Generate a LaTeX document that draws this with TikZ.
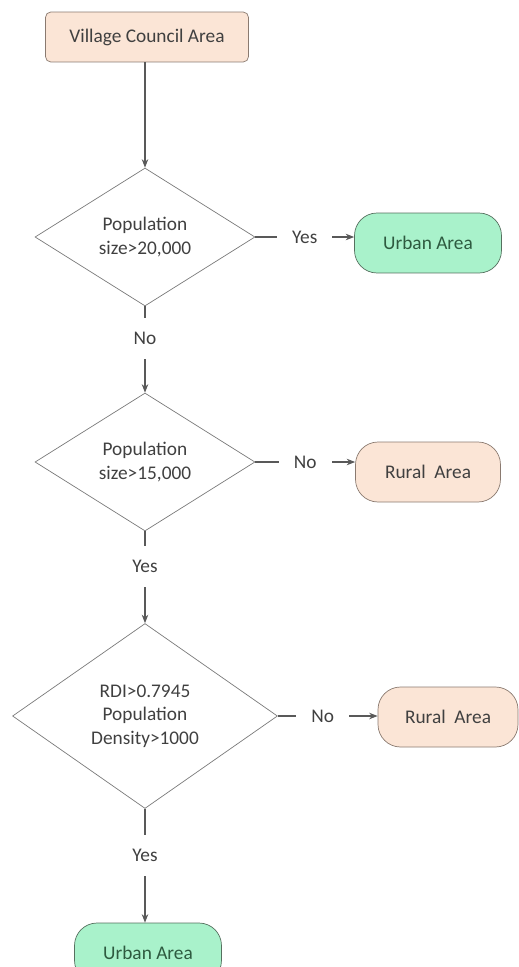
\documentclass[tikz,border=0pt]{standalone}
\usepackage{fontspec}
\setmainfont{Carlito}
\usetikzlibrary{shapes.geometric,arrows.meta}
\definecolor{peachfill}{HTML}{FBE5D6}
\definecolor{peachline}{HTML}{8A7A70}
\definecolor{greenfill}{HTML}{A9F2CB}
\definecolor{greenline}{HTML}{56705F}
\definecolor{greentext}{HTML}{2E5A40}
\definecolor{linegray}{HTML}{595959}
\definecolor{textgray}{HTML}{404040}

\begin{document}
\begin{tikzpicture}[x=0.02cm,y=-0.02cm,
  font=\fontsize{11}{13.5}\selectfont,text=textgray,
  startbox/.style={draw=peachline,fill=peachfill,rounded corners=3pt,minimum width=4.06cm,minimum height=1cm},
  urban/.style={draw=greenline,fill=greenfill,text=greentext,rounded corners=0.45cm,minimum width=2.94cm,minimum height=1.2cm},
  rural/.style={draw=peachline,fill=peachfill,rounded corners=0.45cm,minimum width=2.9cm,minimum height=1.2cm},
  decision/.style={draw=linegray!80,shape=diamond,aspect=1.6,inner sep=0pt,align=center,minimum width=4.4cm,minimum height=2.76cm},
  flow/.style={draw=linegray,line width=0.6pt,-{Stealth[length=0.17cm,width=0.13cm]}},
  lbl/.style={fill=white,inner xsep=0.3cm,inner ysep=0.28cm}]
\useasboundingbox (0,0) rectangle (518,967);
% boxes
\node[startbox] at (147,37) (village) {Village Council Area};
\node[decision] at (145,237) (sizeA) {Population\\size>20,000};
\node[urban] at (428,243) (urbanA) {Urban Area};
\node[decision] at (145,462) (sizeB) {Population\\size>15,000};
\node[rural] at (428,472) (ruralA) {Rural\ \ Area};
\node[decision,minimum width=5.3cm,minimum height=3.7cm] at (145,716) (rdi) {RDI>0.7945\\Population\\Density>1000};
\node[rural,minimum width=2.8cm] at (448,717) (ruralB) {Rural\ \ Area};
\node[urban] at (148,953) (urbanB) {Urban Area};
% arrows
\draw[flow] (village.south -| sizeA.north) -- (sizeA.north);
\draw[flow] (sizeA.east) -- node[lbl]{Yes} (sizeA.east -| urbanA.west);
\draw[flow] (sizeA.south) -- node[lbl,pos=0.37]{No} (sizeB.north);
\draw[flow] (sizeB.east) -- node[lbl]{No} (sizeB.east -| ruralA.west);
\draw[flow] (sizeB.south) -- node[lbl,pos=0.38]{Yes} (rdi.north);
\draw[flow] (rdi.east) -- node[lbl,pos=0.45]{No} (rdi.east -| ruralB.west);
\draw[flow] (rdi.south) -- node[lbl,pos=0.41]{Yes} (rdi.south |- urbanB.north);
\end{tikzpicture}
\end{document}
